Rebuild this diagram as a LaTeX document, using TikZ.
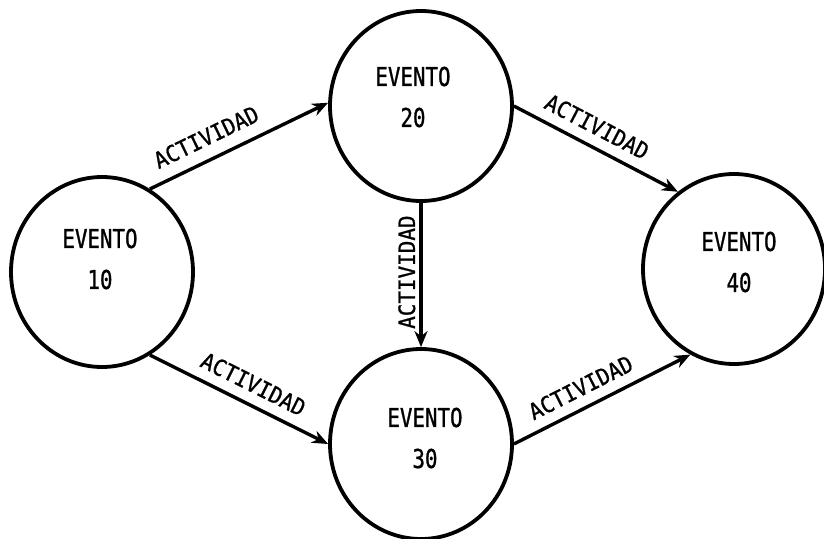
\documentclass[tikz,border=0pt]{standalone}
\usepackage{fontspec}
\usetikzlibrary{arrows.meta,shapes.geometric}
\newfontfamily\evfont[FakeStretch=0.8,FakeBold=1]{DejaVu Sans Mono}
\newfontfamily\acfont[FakeStretch=0.93,FakeBold=1]{DejaVu Sans Mono}
\begin{document}
\begin{tikzpicture}[x=1pt,y=-1pt,
  evento/.style={draw, line width=3.8pt, ellipse, minimum width=182pt,
    minimum height=190pt, inner sep=0pt},
  evtext/.style={align=center, inner sep=0pt,
    font={\evfont\fontsize{26}{41}\selectfont}},
  act/.style={line width=3.4pt, -{Stealth[length=16pt,width=13pt]}},
  actlabel/.style={font={\acfont\fontsize{22.5}{24}\selectfont}, inner sep=2pt}]
  \useasboundingbox (0,0) rectangle (824,538);

  % events
  \node[evento] (e10) at (102,272) {};
  \node[evento] (e20) at (421,106) {};
  \node[evento] (e30) at (421,444) {};
  \node[evento] (e40) at (734,269) {};

  \node[evtext] (t10) at (100,259) {EVENTO\\10};
  \node[evtext] (t20) at (413,97) {EVENTO\\20};
  \node[evtext] (t30) at (425,438) {EVENTO\\30};
  \node[evtext] (t40) at (739,262) {EVENTO\\40};

  % activities
  \draw[act] (e10.60) -- node[actlabel, sloped, above=10pt, pos=0.37] (a1) {ACTIVIDAD} (e20.178);
  \draw[act] (e10.-60) -- node[actlabel, sloped, above=8pt, pos=0.53] (a2) {ACTIVIDAD} (e30.180);
  \draw[act] (e20.0) -- node[actlabel, sloped, above=8pt, pos=0.45] (a3) {ACTIVIDAD} (e40.126);
  \draw[act] (e20.270) -- node[actlabel, rotate=90, anchor=south, pos=0.48, yshift=2pt] (a4) {ACTIVIDAD} (e30.90);
  \draw[act] (e30.0) -- node[actlabel, sloped, above=8pt, pos=0.43] (a5) {ACTIVIDAD} (e40.243);
\end{tikzpicture}
\end{document}
